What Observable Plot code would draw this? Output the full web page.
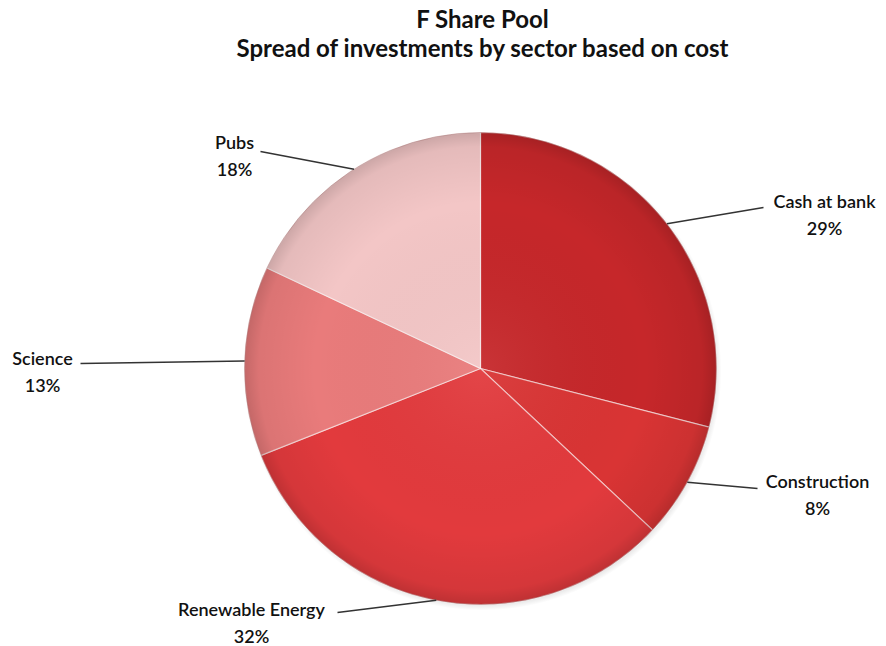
<!DOCTYPE html>
<html>
<head>
<meta charset="utf-8">
<script src="https://cdn.jsdelivr.net/npm/d3@7"></script>
<script src="https://cdn.jsdelivr.net/npm/@observablehq/plot@0.6"></script>
<style>
  html, body { margin: 0; padding: 0; background: #fff; }
  #chart { width: 886px; height: 646px; }
</style>
</head>
<body>
<div id="chart"></div>
<script>
// ---- data ----
const titleLines = ["F Share Pool", "Spread of investments by sector based on cost"];
const names = ["Cash at bank", "Construction", "Renewable Energy", "Science", "Pubs"];
const shares = [29, 8, 32, 13, 18];
const colors = ["#c6272a", "#d93434", "#e23a3d", "#e97b7b", "#f3c6c6"];

// ---- layout (pixels) ----
const W = 886, H = 646;
const cx = 480, cy = 368, R = 236;
const leaderEnd = [[763, 207], [757, 488], [337, 612], [80, 363], [260, 151]];
const labelCenter = [[824, 202], [817, 482], [251, 610], [42, 359], [234, 143]];
const lineGap = 27;

// pie geometry from the data
const pie = d3.pie().sort(null).value(d => d.share)(names.map((n, i) => ({name: n, share: shares[i]})));
const pt = (a, r = R) => [cx + r * Math.sin(a), cy - r * Math.cos(a)];

const poly = [];
pie.forEach(p => {
  const n = Math.max(4, Math.ceil((p.endAngle - p.startAngle) / (Math.PI * 2) * 360));
  poly.push({name: p.data.name, x: cx, y: cy});
  for (let k = 0; k <= n; k++) {
    const a = p.startAngle + (p.endAngle - p.startAngle) * k / n;
    const [x, y] = pt(a);
    poly.push({name: p.data.name, x, y});
  }
  poly.push({name: p.data.name, x: cx, y: cy});
});

const leaders = pie.map((p, i) => {
  const mid = (p.startAngle + p.endAngle) / 2;
  const [x1, y1] = pt(mid);
  return {name: p.data.name, x1, y1, x2: leaderEnd[i][0], y2: leaderEnd[i][1]};
});
const labels = [];
pie.forEach((p, i) => {
  labels.push({x: labelCenter[i][0], y: labelCenter[i][1], text: p.data.name});
  labels.push({x: labelCenter[i][0], y: labelCenter[i][1] + lineGap, text: `${p.data.share}%`});
});
const titles = titleLines.map((t, i) => ({x: 482, y: 20 + i * 29, text: t}));

const svg = Plot.plot({
  width: W, height: H,
  margin: 0,
  style: {background: "#fff", fontFamily: "Lato, 'Open Sans', sans-serif"},
  x: {domain: [0, W], range: [0, W], axis: null},
  y: {domain: [0, H], range: [0, H], axis: null},
  color: {domain: names, range: colors},
  marks: [
    Plot.dot([{x: cx + 2, y: cy + 3}], {x: "x", y: "y", r: R + 3, fill: "url(#shadow)", stroke: "none"}),
    Plot.line(poly, {x: "x", y: "y", z: "name", fill: "name", stroke: "#ffffff", strokeOpacity: 0.55, strokeWidth: 1.2, curve: "linear"}),
    Plot.dot([{x: cx, y: cy}], {x: "x", y: "y", r: R, fill: "url(#shade)", stroke: "#7a1010", strokeOpacity: 0.25, strokeWidth: 1}),
    Plot.link(leaders, {x1: "x1", y1: "y1", x2: "x2", y2: "y2", stroke: "#333", strokeWidth: 1.5}),
    Plot.text(labels, {x: "x", y: "y", text: "text", fontSize: 18, fontWeight: 600, fill: "#111", textAnchor: "middle"}),
    Plot.text(titles, {x: "x", y: "y", text: "text", fontSize: 24, fontWeight: "bold", fill: "#111", textAnchor: "middle"})
  ]
});

const ns = "http://www.w3.org/2000/svg";
const defs = document.createElementNS(ns, "defs");
defs.innerHTML = `
  <radialGradient id="shade" cx="50%" cy="50%" r="50%">
    <stop offset="0%" stop-color="#ffffff" stop-opacity="0.06"/>
    <stop offset="70%" stop-color="#000000" stop-opacity="0"/>
    <stop offset="94%" stop-color="#000000" stop-opacity="0.06"/>
    <stop offset="100%" stop-color="#000000" stop-opacity="0.16"/>
  </radialGradient>
  <radialGradient id="shadow" cx="50%" cy="50%" r="50%">
    <stop offset="95%" stop-color="#000000" stop-opacity="0.18"/>
    <stop offset="100%" stop-color="#000000" stop-opacity="0"/>
  </radialGradient>`;
svg.insertBefore(defs, svg.firstChild);
document.getElementById("chart").appendChild(svg);
</script>
</body>
</html>
